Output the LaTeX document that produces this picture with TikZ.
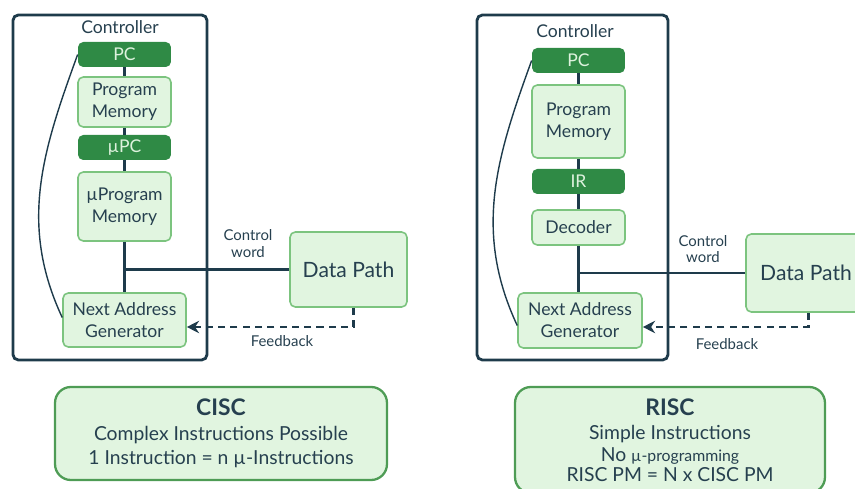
\documentclass[tikz,border=0pt]{standalone}
\usepackage{fontspec}
\setmainfont{Lato}
\usetikzlibrary{arrows.meta}

\definecolor{navy}{HTML}{1E3B4B}
\definecolor{inktext}{HTML}{26404F}
\definecolor{darkgreen}{HTML}{2F8A45}
\definecolor{palegreen}{HTML}{E1F5E0}
\definecolor{edgegreen}{HTML}{7CC47F}
\definecolor{framegreen}{HTML}{4E9C55}
\definecolor{regtext}{HTML}{DDF2DD}

\tikzset{
  ctrlframe/.style={draw=navy, line width=1.6pt, rounded corners=3pt, inner sep=0pt},
  reg/.style={fill=darkgreen, text=regtext, rounded corners=3pt, inner sep=0pt,
    minimum width=1.86cm, minimum height=0.5cm, font=\fontsize{10}{12}\selectfont},
  unit/.style={draw=edgegreen, fill=palegreen, line width=0.9pt, rounded corners=3pt,
    text=inktext, inner sep=0pt, align=center, font=\fontsize{10}{12.5}\selectfont},
  summary/.style={draw=framegreen, fill=palegreen, line width=1.3pt, rounded corners=9pt,
    text=inktext, inner sep=0pt, align=center, font=\fontsize{11}{13.9}\selectfont},
  lbl/.style={text=inktext, inner sep=0pt, font=\fontsize{10}{12}\selectfont},
  note/.style={text=inktext, inner sep=0pt, align=center, font=\fontsize{8.5}{9.6}\selectfont},
  wire/.style={draw=navy, line width=1.6pt},
  loop/.style={draw=navy, line width=0.8pt},
  feedback/.style={draw=navy, line width=1.4pt, dash pattern=on 4pt off 3pt,
    -{Stealth[length=7pt,width=7pt]}}
}

\begin{document}
\begin{tikzpicture}[x=0.02cm, y=0.02cm]
	\useasboundingbox (0,0) rectangle (855,-489);

	% CISC side
	\node (ctrlL)[ctrlframe, minimum width=3.88cm, minimum height=6.9cm] at (110,-187.5) {};
	\node (ctrlLtxt)[lbl] at (120,-27) {Controller};
	\node (pcL)[reg] at (124.5,-54.5) {PC};
	\node (pmL)[unit, minimum width=1.86cm, minimum height=1cm] at (124.5,-102) {Program\\Memory};
	\node (upcL)[reg] at (124.5,-147.5) {µPC};
	\node (upmL)[unit, minimum width=1.86cm, minimum height=1.38cm] at (124.5,-206.5) {µProgram\\Memory};
	\node (nagL)[unit, minimum width=2.46cm, minimum height=1.08cm] at (124.5,-320) {Next Address\\Generator};
	\node (dpL)[unit, minimum width=2.34cm, minimum height=1.5cm, font=\fontsize{12}{14}\selectfont] at (348.5,-269.5) {Data Path};
	\node (cwL)[note] at (248,-243.5) {Control\\word};
	\node (fbL)[note] at (282,-341) {Feedback};

	\draw [wire](pcL)--(pmL);
	\draw [wire](pmL)--(upcL);
	\draw [wire](upcL)--(upmL);
	\draw [wire](upmL)--(nagL);
	\draw [wire](dpL.west)--(dpL.west -| upmL.south);
	\draw [loop](pcL.west) to[out=-110, in=115] ([yshift=0.05cm]nagL.west);
	\draw [feedback]([xshift=0.1cm]dpL.south) |- ([yshift=-0.14cm]nagL.east);

	% RISC side
	\node (ctrlR)[ctrlframe, minimum width=3.82cm, minimum height=6.9cm] at (572.5,-187.5) {};
	\node (ctrlRtxt)[lbl] at (575,-31) {Controller};
	\node (pcR)[reg] at (578.5,-60.5) {PC};
	\node (pmR)[unit, minimum width=1.86cm, minimum height=1.46cm] at (578.5,-121.5) {Program\\Memory};
	\node (irR)[reg] at (578.5,-181.5) {IR};
	\node (decR)[unit, minimum width=1.86cm, minimum height=0.7cm] at (578.5,-227.5) {Decoder};
	\node (nagR)[unit, minimum width=2.48cm, minimum height=1.1cm] at (580,-320.5) {Next Address\\Generator};
	\node (dpR)[unit, minimum width=2.4cm, minimum height=1.56cm, font=\fontsize{12}{14}\selectfont] at (806,-273) {Data Path};
	\node (cwR)[note] at (703,-249) {Control\\word};
	\node (fbR)[note] at (727,-344) {Feedback};

	\draw [wire](pcR)--(pmR);
	\draw [wire](pmR)--(irR);
	\draw [wire](irR)--(decR);
	\draw [wire](decR)--(decR |- nagR.north);
	\draw [wire](dpR.west)--(dpR.west -| decR.south);
	\draw [loop](pcR.west) to[out=-110, in=115] ([yshift=-0.1cm]nagR.west);
	\draw [feedback]([xshift=0.05cm]dpR.south) |- ([yshift=-0.13cm]nagR.east);

	% summaries
	\node (cisc)[summary, minimum width=6.64cm, minimum height=1.86cm] at (221,-433.5)
		{{\fontsize{13}{14}\selectfont\bfseries CISC}\\Complex Instructions Possible\\1 Instruction = n µ-Instructions};
	\node (risc)[summary, minimum width=6.2cm, minimum height=2.12cm] at (670,-440)
		{{\fontsize{13}{14}\selectfont\bfseries RISC}\\Simple Instructions\\[-1.5pt]No {\fontsize{9}{10}\selectfont µ-programming}\\[-2.5pt]RISC PM = N x CISC PM};
\end{tikzpicture}
\end{document}
